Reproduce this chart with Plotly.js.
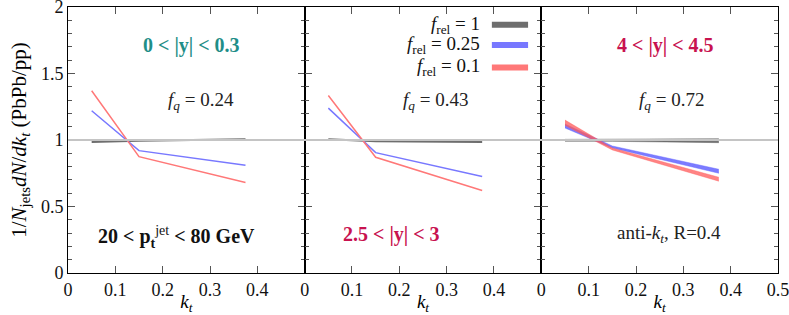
<!DOCTYPE html>
<html>
<head>
<meta charset="utf-8">
<script src="https://cdn.plot.ly/plotly-3.0.1.min.js"></script>
<style>html,body{margin:0;padding:0;background:#fff;}#chart{width:789px;height:315px;}</style>
</head>
<body>
<div id="chart"></div>
<script>
// ---- data ----
const kt = [0.05, 0.15, 0.375];
// panel 1 : 0<|y|<0.3
const p1_rel1   = [0.985, 0.995, 1.005];
const p1_rel025 = [1.22, 0.92, 0.81];
const p1_rel01  = [1.37, 0.875, 0.68];
// panel 2 : 2.5<|y|<3
const p2_rel1   = [1.005, 0.99, 0.985];
const p2_rel025 = [1.24, 0.905, 0.725];
const p2_rel01  = [1.335, 0.87, 0.62];
// panel 3 : 4<|y|<4.5 (bands)
const p3_rel1_lo   = [0.99, 0.99, 0.98];
const p3_rel1_hi   = [1.005, 1.005, 1.01];
const p3_rel025_lo = [1.09, 0.94, 0.75];
const p3_rel025_hi = [1.12, 0.955, 0.78];
const p3_rel01_lo  = [1.11, 0.925, 0.69];
const p3_rel01_hi  = [1.15, 0.94, 0.72];

const xTickVals = [0, 0.1, 0.2, 0.3, 0.4, 0.5];
const xTickText12 = ['0', '0.1', '0.2', '0.3', '0.4', ''];
const xTickText3 = ['0', '0.1', '0.2', '0.3', '0.4', '0.5'];
const yTickVals = [0, 0.5, 1, 1.5, 2];
const yTickText = ['0', '0.5', '1', '1.5', '2'];

const legendLabels = ['<i>f</i><sub>rel</sub> = 1', '<i>f</i><sub>rel</sub> = 0.25', '<i>f</i><sub>rel</sub> = 0.1'];

const GRAY = 'rgb(110,110,110)', BLUE = 'rgb(120,120,255)', RED = 'rgb(255,120,120)';
const TEAL = '#1f8e88', CRIM = '#c8124f';
const FONT = 'Liberation Serif, DejaVu Serif, serif';

function line(x, y, xa, ya, color, w) {
  return {x: x, y: y, xaxis: xa, yaxis: ya, mode: 'lines', line: {color: color, width: w}, showlegend: false, hoverinfo: 'skip'};
}
function band(x, lo, hi, xa, ya, color) {
  return [
    {x: x, y: lo, xaxis: xa, yaxis: ya, mode: 'lines', line: {color: color, width: 0.5}, showlegend: false, hoverinfo: 'skip'},
    {x: x, y: hi, xaxis: xa, yaxis: ya, mode: 'lines', line: {color: color, width: 0.5}, fill: 'tonexty', fillcolor: color, showlegend: false, hoverinfo: 'skip'}
  ];
}

const traces = [
  line(kt, p1_rel1, 'x', 'y', GRAY, 2),
  line(kt, p1_rel025, 'x', 'y', BLUE, 1.5),
  line(kt, p1_rel01, 'x', 'y', RED, 1.5),
  line(kt, p2_rel1, 'x2', 'y2', GRAY, 2),
  line(kt, p2_rel025, 'x2', 'y2', BLUE, 1.5),
  line(kt, p2_rel01, 'x2', 'y2', RED, 1.5),
  ...band(kt, p3_rel1_lo, p3_rel1_hi, 'x3', 'y3', 'rgba(90,90,90,0.85)'),
  ...band(kt, p3_rel025_lo, p3_rel025_hi, 'x3', 'y3', 'rgba(100,100,255,0.85)'),
  ...band(kt, p3_rel01_lo, p3_rel01_hi, 'x3', 'y3', 'rgba(255,90,90,0.75)')
];

function xax(domain, anchor, text) {
  return {domain: domain, anchor: anchor, range: [0, 0.5], tickmode: 'array', tickvals: xTickVals, ticktext: text,
    ticks: 'inside', ticklen: 7, tickcolor: '#555', showline: true, linecolor: '#000', linewidth: 1, mirror: 'ticks',
    showgrid: false, zeroline: false, tickfont: {family: FONT, size: 18, color: '#111'},
    ticklabeloverflow: 'allow',
    title: {text: '<i>k</i><sub><i>t</i></sub>', font: {family: FONT, size: 19, color: '#000'}, standoff: 3}};
}
function yax(anchor, labels) {
  return {anchor: anchor, domain: [0, 1], range: [0, 2], tickmode: 'array', tickvals: yTickVals, ticktext: yTickText,
    showticklabels: labels, ticks: 'inside', ticklen: 7, tickcolor: '#555', showline: true, linecolor: '#000', linewidth: 1,
    mirror: 'ticks', showgrid: false, zeroline: false, tickfont: {family: FONT, size: 18, color: '#111'},
    ticklabeloverflow: 'allow',
    minor: {tickmode: 'linear', dtick: 0.1, ticks: 'inside', ticklen: 4, tickcolor: '#555', showgrid: false}};
}

const third = 1 / 3;
const y1 = yax('x', true);
y1.title = {text: '1/<i>N</i><sub>jets</sub><i>dN</i>/<i>dk</i><sub><i>t</i></sub> (PbPb/pp)', font: {family: FONT, size: 21, color: '#000'}, standoff: 8};

function ann(xref, x, y, text, color, size, bold) {
  return {xref: xref, yref: 'y', x: x, y: y, text: bold ? '<b>' + text + '</b>' : text, showarrow: false,
    font: {family: FONT, size: size, color: color}, xanchor: 'center', yanchor: 'middle'};
}

const annotations = [
  ann('x', 0.26, 1.71, '0 &lt; |y| &lt; 0.3', TEAL, 20, true),
  ann('x', 0.28, 1.29, '<i>f</i><sub><i>q</i></sub> = 0.24', '#222', 19, false),
  ann('x', 0.23, 0.27, '<b>20 &lt; p<sub>t</sub></b><sup>jet</sup><b> &lt; 80 GeV</b>', '#111', 20, false),
  ann('x2', 0.277, 1.29, '<i>f</i><sub><i>q</i></sub> = 0.43', '#222', 19, false),
  ann('x2', 0.183, 0.29, '2.5 &lt; |y| &lt; 3', CRIM, 20, true),
  ann('x3', 0.262, 1.71, '4 &lt; |y| &lt; 4.5', CRIM, 20, true),
  ann('x3', 0.276, 1.29, '<i>f</i><sub><i>q</i></sub> = 0.72', '#222', 19, false),
  ann('x3', 0.27, 0.29, 'anti-<i>k</i><sub><i>t</i></sub>, R=0.4', '#222', 19, false)
];
const legendY = [0.933, 0.857, 0.773];
const legendCol = [GRAY, BLUE, RED];
const shapes = [
  {type: 'line', xref: 'paper', yref: 'y', x0: 0, x1: 1, y0: 1, y1: 1, line: {color: '#c4c4c4', width: 2}, layer: 'above'}
];
legendLabels.forEach((t, i) => {
  annotations.push({xref: 'paper', yref: 'paper', x: 0.583, y: legendY[i], text: t, showarrow: false,
    font: {family: FONT, size: 19, color: '#111'}, xanchor: 'right', yanchor: 'middle'});
  shapes.push({type: 'line', xref: 'paper', yref: 'paper', x0: 0.597, x1: 0.648, y0: legendY[i], y1: legendY[i],
    line: {color: legendCol[i], width: 6}});
});

const layout = {
  width: 789, height: 315,
  margin: {l: 68, r: 11, t: 7, b: 42},
  paper_bgcolor: '#fff', plot_bgcolor: '#fff',
  showlegend: false,
  xaxis: xax([0, third], 'y', xTickText12),
  xaxis2: xax([third, 2 * third], 'y2', xTickText12),
  xaxis3: xax([2 * third, 1], 'y3', xTickText3),
  yaxis: y1,
  yaxis2: yax('x2', false),
  yaxis3: yax('x3', false),
  annotations: annotations,
  shapes: shapes,
  font: {family: FONT}
};

Plotly.newPlot('chart', traces, layout, {staticPlot: true, displayModeBar: false});
</script>
</body>
</html>
